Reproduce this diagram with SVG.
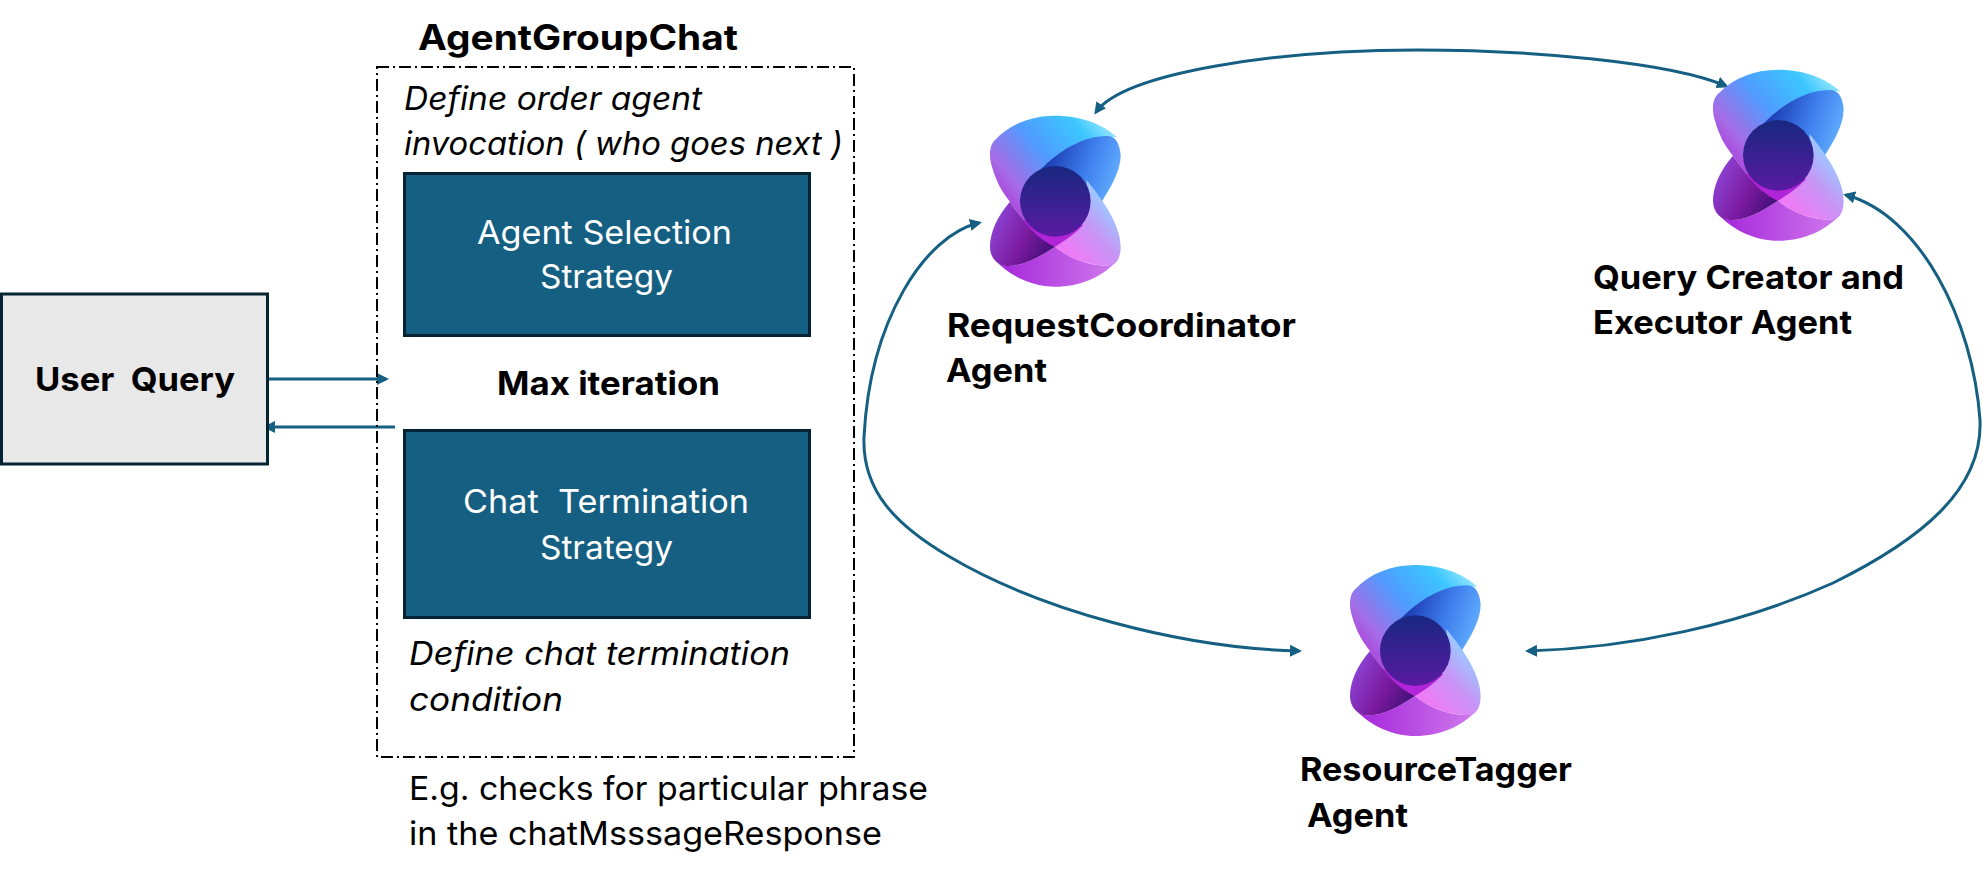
<svg xmlns="http://www.w3.org/2000/svg" xmlns:xlink="http://www.w3.org/1999/xlink" width="1983" height="880" viewBox="0 0 1983 880">
<style>
text{font-family:"Inter","Noto Sans","Liberation Sans",sans-serif;font-size:33px;fill:#000;white-space:pre}
.b{font-weight:700}
.i{font-style:italic}
.w{fill:#fff}
.box{fill:#156082;stroke:#042433;stroke-width:3}
.c{fill:none;stroke:#156082;stroke-width:3}
.m{marker-end:url(#ah)}
.mm{marker-start:url(#ah);marker-end:url(#ah)}
</style>
<defs>
<marker id="ah" markerUnits="userSpaceOnUse" markerWidth="14" markerHeight="14" refX="9" refY="7" orient="auto-start-reverse"><path d="M0,1 L12,7 L0,13 Z" fill="#156082"/></marker>
<linearGradient id="g1" gradientUnits="userSpaceOnUse" x1="450" y1="60" x2="120" y2="340"><stop offset="0" stop-color="#a6ecff"/><stop offset=".2" stop-color="#3cc6ff"/><stop offset=".5" stop-color="#4f9cff"/><stop offset=".78" stop-color="#a56de6"/><stop offset="1" stop-color="#b02fd8"/></linearGradient>
<linearGradient id="g2" gradientUnits="userSpaceOnUse" x1="260" y1="190" x2="470" y2="260"><stop offset="0" stop-color="#1d3db4"/><stop offset=".55" stop-color="#3f80ee"/><stop offset="1" stop-color="#62aeff"/></linearGradient>
<linearGradient id="g3" gradientUnits="userSpaceOnUse" x1="450" y1="330" x2="320" y2="450"><stop offset="0" stop-color="#9fc4ff"/><stop offset=".45" stop-color="#c795f6"/><stop offset="1" stop-color="#ee7bf6"/></linearGradient>
<linearGradient id="g4" gradientUnits="userSpaceOnUse" x1="140" y1="500" x2="460" y2="500"><stop offset="0" stop-color="#a82cdc"/><stop offset="1" stop-color="#cf78ec"/></linearGradient>
<linearGradient id="g5" gradientUnits="userSpaceOnUse" x1="105" y1="370" x2="270" y2="455"><stop offset="0" stop-color="#8c3fd0"/><stop offset=".55" stop-color="#7a1a9e"/><stop offset="1" stop-color="#45107a"/></linearGradient>
<linearGradient id="g6" gradientUnits="userSpaceOnUse" x1="286" y1="198" x2="286" y2="410"><stop offset="0" stop-color="#182880"/><stop offset="1" stop-color="#5a1aa2"/></linearGradient>
<g id="icon">
<path fill="url(#g1)" d="M472,112 C430,72 360,47 285,47 C215,47 150,72 105,120 C88,135 86,170 96,200 C110,250 130,280 150,305 C185,360 235,410 285,440 L420,310 L440,110 Z"/>
<path fill="url(#g2)" d="M180,300 C215,215 330,108 440,108 C465,108 478,125 482,165 C482,215 450,265 425,305 L390,340 L285,300 Z"/>
<path fill="url(#g3)" d="M380,240 C420,290 482,370 482,440 C482,480 465,497 445,497 C380,497 320,470 285,440 L240,400 L380,300 Z"/>
<path fill="url(#g4)" d="M108,482 C150,530 220,560 285,560 C360,560 430,530 470,482 C460,495 450,497 440,497 C380,497 320,470 285,440 C240,470 190,500 140,498 C125,497 115,490 108,482 Z"/>
<path fill="url(#g5)" d="M150,305 C110,350 90,400 90,440 C90,475 115,498 140,498 C190,500 240,470 285,440 C235,410 185,360 150,305 Z"/>
<path fill="#b224d8" d="M190,360 C220,400 250,425 285,440 C310,425 340,405 370,375 L285,360 Z"/>
<circle cx="286" cy="304" r="106" fill="url(#g6)"/>
</g>
</defs>

<g id="connectors">
<path class="c m" d="M268,379 H386"/>
<path class="c m" d="M395,427 H266"/>
<path class="c mm" d="M1096,112 C1125,72 1280,50 1417,50 C1530,50 1670,62 1726,86"/>
<path class="c mm" d="M979,223 C925,235 870,320 864,437 C862,490 895,525 950,557 C1040,610 1180,648 1299,651"/>
<path class="c mm" d="M1846,195 C1920,215 1973,320 1980,420 C1983,490 1920,540 1833,583 C1740,625 1630,648 1528,651"/>
</g>

<g id="user-query">
<rect x="1.500" y="294" width="266" height="170" fill="#e8e8e8" stroke="#042433" stroke-width="3"/>
<text class="b" x="35" y="391" textLength="200" lengthAdjust="spacingAndGlyphs">User  Query</text>
</g>

<g id="agent-group-chat">
<rect x="377" y="67" width="477" height="690" fill="none" stroke="#000" stroke-width="2" stroke-dasharray="12 4 2 4"/>
<text class="b" x="418" y="50" textLength="320" lengthAdjust="spacingAndGlyphs" style="font-size:35px">AgentGroupChat</text>
<text class="i" x="404" y="110" textLength="298" lengthAdjust="spacingAndGlyphs">Define order agent</text>
<text class="i" x="404" y="155" textLength="439" lengthAdjust="spacingAndGlyphs">invocation ( who goes next )</text>
<text class="b" x="497" y="395" textLength="223" lengthAdjust="spacingAndGlyphs">Max iteration</text>
<text class="i" x="409" y="665" textLength="381" lengthAdjust="spacingAndGlyphs">Define chat termination</text>
<text class="i" x="409" y="711" textLength="154" lengthAdjust="spacingAndGlyphs">condition</text>
</g>

<g id="agent-selection">
<rect class="box" x="404.500" y="173.500" width="405" height="162"/>
<text class="w" x="477" y="244" textLength="255" lengthAdjust="spacingAndGlyphs">Agent Selection</text>
<text class="w" x="540" y="288" textLength="133" lengthAdjust="spacingAndGlyphs">Strategy</text>
</g>

<g id="chat-termination">
<rect class="box" x="404.500" y="430.500" width="405" height="187"/>
<text class="w" x="463" y="513" textLength="286" lengthAdjust="spacingAndGlyphs">Chat  Termination</text>
<text class="w" x="540" y="559" textLength="133" lengthAdjust="spacingAndGlyphs">Strategy</text>
</g>

<g id="note">
<text x="409" y="800" textLength="519" lengthAdjust="spacingAndGlyphs">E.g. checks for particular phrase</text>
<text x="409" y="845" textLength="473" lengthAdjust="spacingAndGlyphs">in the chatMsssageResponse</text>
</g>

<g id="request-coordinator">
<use xlink:href="#icon" href="#icon" transform="translate(960,100) scale(.33333)"/>
<text class="b" x="947" y="337" textLength="349" lengthAdjust="spacingAndGlyphs">RequestCoordinator</text>
<text class="b" x="946" y="382" textLength="101" lengthAdjust="spacingAndGlyphs">Agent</text>
</g>

<g id="query-creator">
<use xlink:href="#icon" href="#icon" transform="translate(1683,54) scale(.33333)"/>
<text class="b" x="1593" y="289" textLength="311" lengthAdjust="spacingAndGlyphs">Query Creator and</text>
<text class="b" x="1593" y="334" textLength="259" lengthAdjust="spacingAndGlyphs">Executor Agent</text>
</g>

<g id="resource-tagger">
<use xlink:href="#icon" href="#icon" transform="translate(1320,549.300) scale(.33333)"/>
<text class="b" x="1300" y="781" textLength="272" lengthAdjust="spacingAndGlyphs">ResourceTagger</text>
<text class="b" x="1307" y="827" textLength="101" lengthAdjust="spacingAndGlyphs">Agent</text>
</g>
</svg>
